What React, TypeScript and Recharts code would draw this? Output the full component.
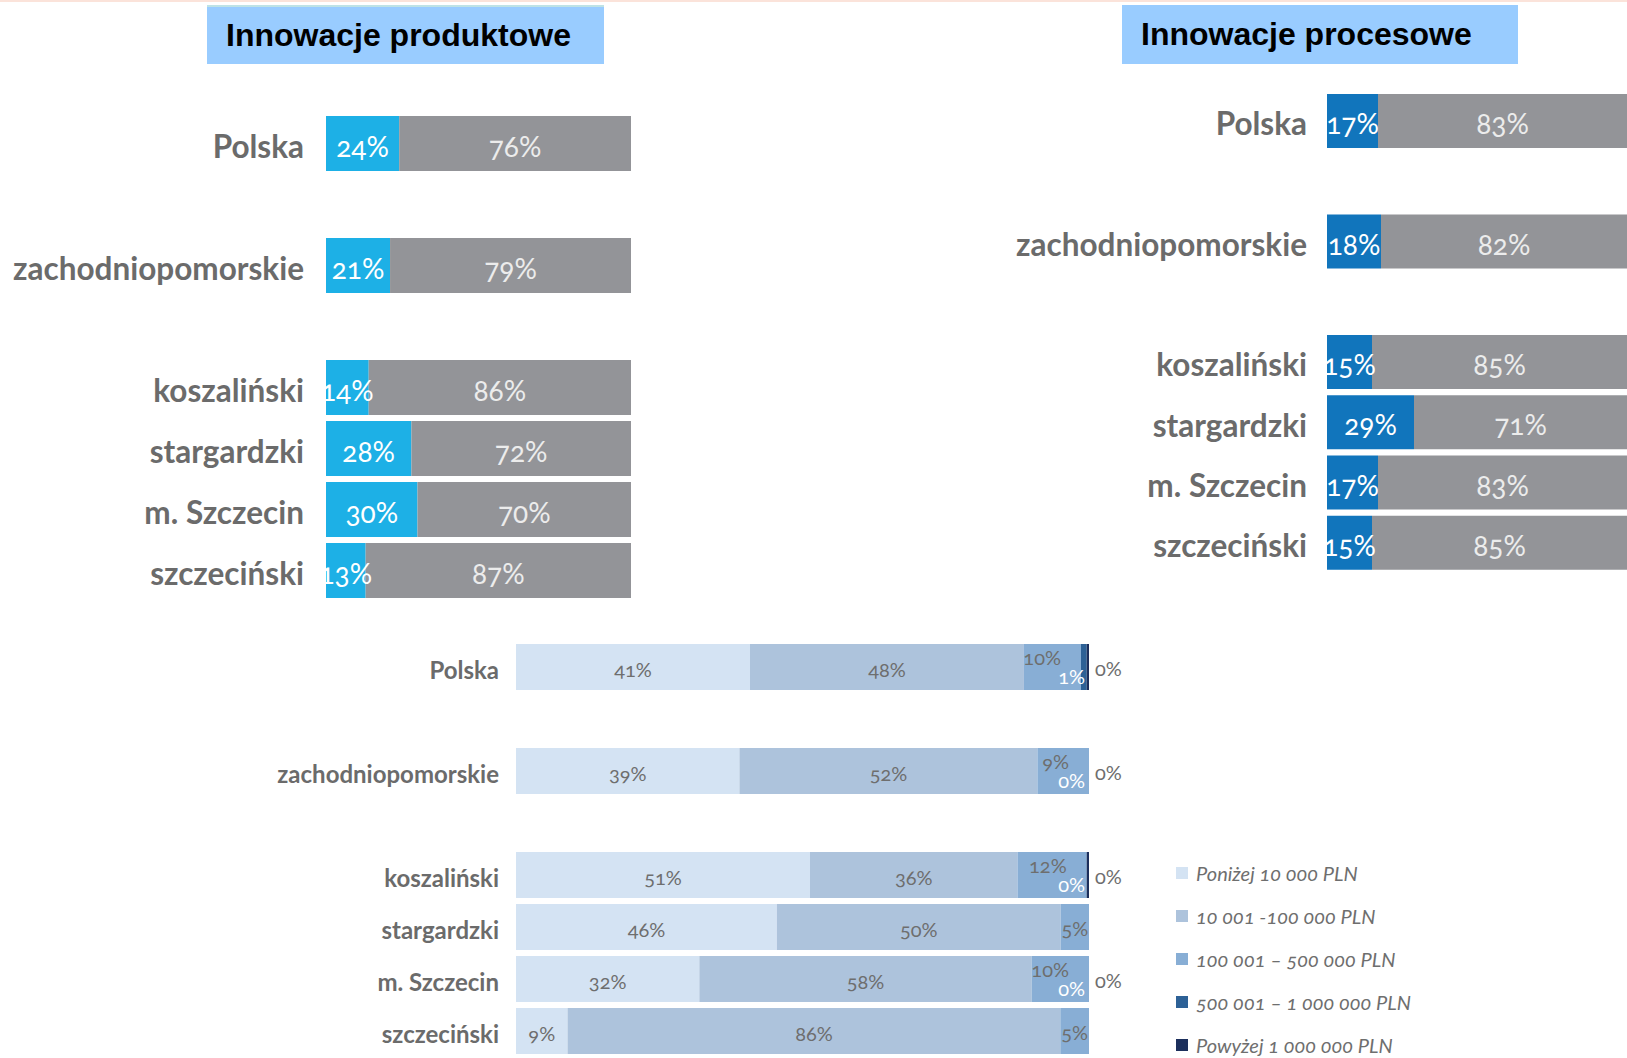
import React from 'react'
import { BarChart, Bar, XAxis, YAxis, LabelList, Legend } from 'recharts'

const regions = ['Polska', 'zachodniopomorskie', 'koszaliński', 'stargardzki', 'm. Szczecin', 'szczeciński']

// innowacje produktowe / procesowe: tak vs nie (%)
const productYes = [24, 21, 14, 28, 30, 13]
const productNo = [76, 79, 86, 72, 70, 87]
const processYes = [17, 18, 15, 29, 17, 15]
const processNo = [83, 82, 85, 71, 83, 85]

// nakłady na innowacje
const costNames = [
  'Poniżej 10 000 PLN',
  '10 001 -100 000 PLN',
  '100 001 – 500 000 PLN',
  '500 001 – 1 000 000 PLN',
  'Powyżej 1 000 000 PLN',
]
const costBelow10k = [41, 39, 51, 46, 32, 9]
const cost10to100k = [48, 52, 36, 50, 58, 86]
const cost100to500k = [10, 9, 12, 5, 10, 5]
const cost500kTo1m = [1, 0, 0, null, 0, null]
const costAbove1m = [0.4, 0, 0.4, null, 0, null]

const costColors = ['#d4e3f3', '#adc3dc', '#88aed5', '#2d6196', '#1c2f5c']

// empty rows after Polska and zachodniopomorskie
const withGaps = (rows: any[]) => {
  const out: any[] = []
  rows.forEach((r, i) => {
    out.push(r)
    if (i < 2) out.push({ name: ' '.repeat(i + 1) })
  })
  return out
}

const productData = withGaps(regions.map((name, i) => ({ name, yes: productYes[i], no: productNo[i] })))
const processData = withGaps(regions.map((name, i) => ({ name, yes: processYes[i], no: processNo[i] })))
const costData = withGaps(
  regions.map((name, i) => ({
    name,
    c1: costBelow10k[i],
    c2: cost10to100k[i],
    c3: cost100to500k[i],
    c4: cost500kTo1m[i] ?? 0,
    c5: costAbove1m[i] ?? 0,
    hasTail: cost500kTo1m[i] != null,
  }))
)

const numFont = { fontFamily: 'Lato, sans-serif', fontVariantNumeric: 'oldstyle-nums' as const }
const pct = (v: number) => `${Math.round(v)}%`

const CategoryTick = (props: any) => {
  const { x, y, payload, fontSize } = props
  return (
    <text x={x} y={y + 3} dy="0.36em" textAnchor="end" fontFamily="Lato, sans-serif" fontWeight={700}
      fontSize={fontSize} fill="#6b6b6b">
      {payload.value}
    </text>
  )
}

const makeLabel = (fill: string, fontSize: number) => (props: any) => {
  const { viewBox, value } = props
  if (value == null || !viewBox) return null
  const { x, y, width, height } = viewBox
  return (
    <text x={x + width / 2} y={y + height / 2 + 3} dy="0.36em" textAnchor="middle" fontSize={fontSize}
      fill={fill} style={numFont}>
      {pct(value)}
    </text>
  )
}

// labels of the last three segments, drawn from the 100 001 – 500 000 segment
const TailLabels = (props: any) => {
  const { viewBox, value: row } = props
  if (!row || row.c3 == null || !viewBox) return null
  const { x, y, width, height } = viewBox
  const cy = y + height / 2
  const end3 = x + width
  if (!row.hasTail) {
    return (
      <text x={x + width / 2} y={cy + 2} dy="0.36em" textAnchor="middle" fontSize={20} fill="#6e6e6e" style={numFont}>
        {pct(row.c3)}
      </text>
    )
  }
  const barEnd = end3 + (width * (row.c4 + row.c5)) / row.c3
  return (
    <g>
      <text x={end3 - 20} y={cy - 9} dy="0.36em" textAnchor="end" fontSize={20} fill="#6e6e6e" style={numFont}>
        {pct(row.c3)}
      </text>
      <text x={barEnd - 4} y={cy + 10} dy="0.36em" textAnchor="end" fontSize={20} fill="#ffffff" style={numFont}>
        {pct(row.c4)}
      </text>
      <text x={barEnd + 6} y={cy + 2} dy="0.36em" textAnchor="start" fontSize={20} fill="#6e6e6e" style={numFont}>
        {pct(row.c5)}
      </text>
    </g>
  )
}

const CostLegend = (props: any) => {
  const items = [...(props.payload || [])].sort(
    (a: any, b: any) => costNames.indexOf(a.value) - costNames.indexOf(b.value)
  )
  return (
    <div>
      {items.map((p: any) => (
        <div key={p.value} style={{ display: 'flex', alignItems: 'center', height: 43 }}>
          <span style={{ width: 12, height: 12, background: p.color, marginRight: 8, flex: 'none' }} />
          <span style={{ fontFamily: 'Lato, sans-serif', fontStyle: 'italic', fontSize: 20, lineHeight: '20px',
            color: '#6e6e6e', whiteSpace: 'nowrap', fontVariantNumeric: 'oldstyle-nums' }}>
            {p.value}
          </span>
        </div>
      ))}
    </div>
  )
}

const titleStyle: React.CSSProperties = {
  position: 'absolute', top: 5, height: 59, background: '#99ccff', display: 'flex', alignItems: 'center',
  paddingLeft: 19, boxSizing: 'border-box', fontFamily: '"Liberation Sans", Arial, sans-serif',
  fontWeight: 700, fontSize: 32, color: '#000',
}

const YesNoChart = ({ data, yesColor, left, top, width, height, axisWidth, barSize, tickMargin }: any) => (
  <div style={{ position: 'absolute', left, top }}>
    <BarChart width={width} height={height} data={data} layout="vertical" barSize={barSize}
      margin={{ top: 0, right: 0, bottom: 0, left: 0 }}>
      <XAxis type="number" domain={[0, 100]} hide />
      <YAxis type="category" dataKey="name" width={axisWidth} axisLine={false} tickLine={false}
        tickMargin={tickMargin} interval={0} tick={<CategoryTick fontSize={31.5} />} />
      <Bar dataKey="yes" stackId="a" fill={yesColor} isAnimationActive={false}>
        <LabelList dataKey="yes" content={makeLabel('#ffffff', 28)} />
      </Bar>
      <Bar dataKey="no" stackId="a" fill="#939498" isAnimationActive={false}>
        <LabelList dataKey="no" content={makeLabel('#ececec', 28)} />
      </Bar>
    </BarChart>
  </div>
)

export default function App() {
  return (
    <div style={{ position: 'absolute', left: 0, top: 0, width: 1627, height: 1058, background: '#fff', overflow: 'hidden' }}>
      <div style={{ position: 'absolute', left: 0, top: 0, width: 1627, height: 2, background: '#fbe3da' }} />
      <div style={{ ...titleStyle, left: 207, width: 397, borderTop: '2px solid #bfe3e6' }}>Innowacje produktowe</div>
      <div style={{ ...titleStyle, left: 1122, width: 396 }}>Innowacje procesowe</div>

      <YesNoChart data={productData} yesColor="#1db0e6" left={0} top={113} width={631} height={488}
        axisWidth={326} barSize={55} tickMargin={16} />
      <YesNoChart data={processData} yesColor="#1175bc" left={900} top={91} width={727} height={482}
        axisWidth={427} barSize={54} tickMargin={14} />

      <div style={{ position: 'absolute', left: 200, top: 641 }}>
        <BarChart width={1427} height={416} data={costData} layout="vertical" barSize={46} stackOffset="expand"
          margin={{ top: 0, right: 538, bottom: 0, left: 0 }}>
          <XAxis type="number" domain={[0, 1]} hide />
          <YAxis type="category" dataKey="name" width={316} axisLine={false} tickLine={false}
            tickMargin={11} interval={0} tick={<CategoryTick fontSize={24} />} />
          <Legend layout="vertical" align="center" verticalAlign="middle" content={CostLegend}
            wrapperStyle={{ left: 976, top: 210, width: 320 }} />
          <Bar dataKey="c1" name={costNames[0]} stackId="a" fill={costColors[0]} isAnimationActive={false}>
            <LabelList dataKey="c1" content={makeLabel('#6e6e6e', 20)} />
          </Bar>
          <Bar dataKey="c2" name={costNames[1]} stackId="a" fill={costColors[1]} isAnimationActive={false}>
            <LabelList dataKey="c2" content={makeLabel('#6e6e6e', 20)} />
          </Bar>
          <Bar dataKey="c3" name={costNames[2]} stackId="a" fill={costColors[2]} isAnimationActive={false}>
            <LabelList dataKey={(d: any) => d} content={TailLabels} />
          </Bar>
          <Bar dataKey="c4" name={costNames[3]} stackId="a" fill={costColors[3]} isAnimationActive={false} />
          <Bar dataKey="c5" name={costNames[4]} stackId="a" fill={costColors[4]} isAnimationActive={false} />
        </BarChart>
      </div>
    </div>
  )
}
